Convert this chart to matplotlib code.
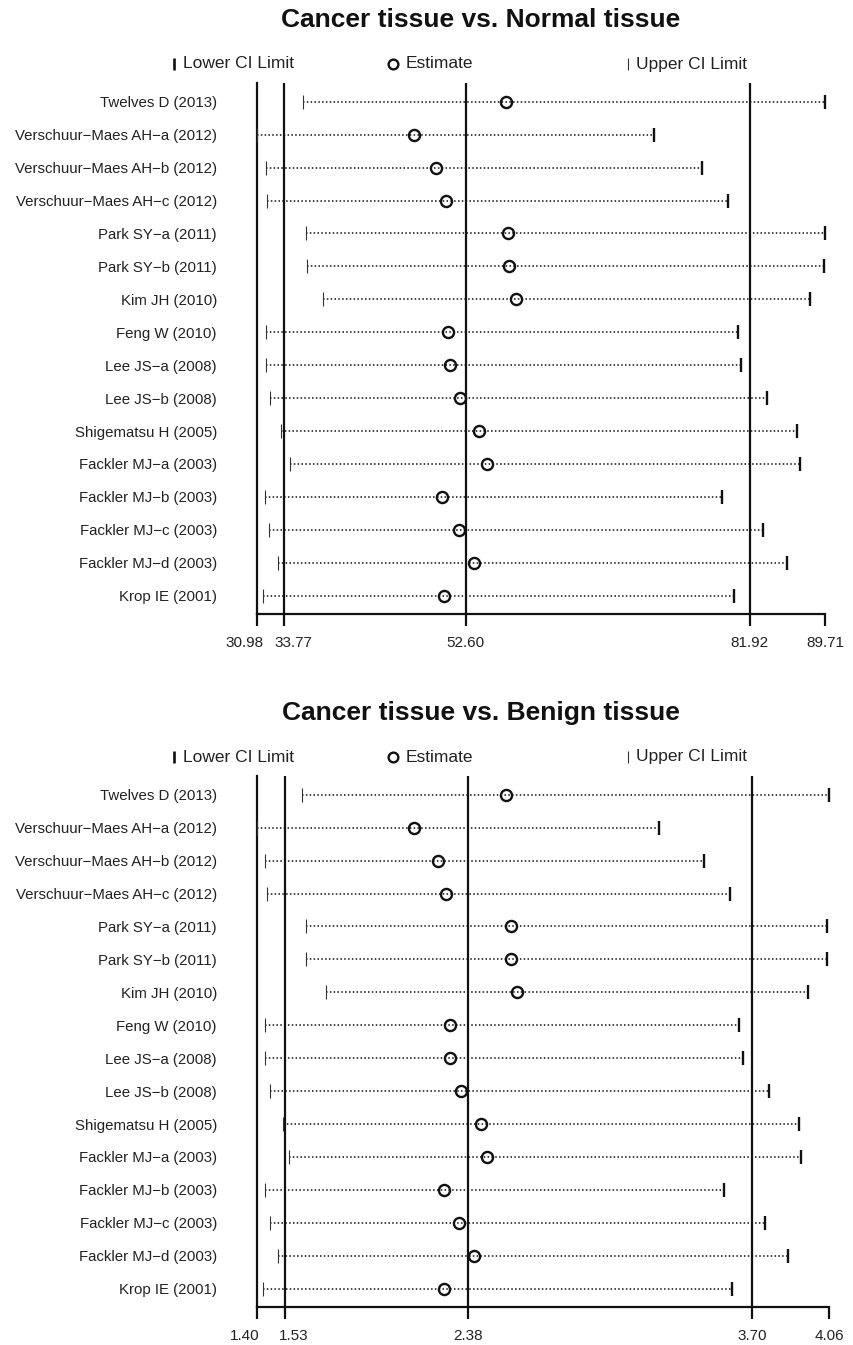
import matplotlib.pyplot as plt
import numpy as np
from matplotlib.transforms import ScaledTranslation

plt.rcParams['font.family'] = ['Liberation Sans', 'DejaVu Sans']

W, H = 854, 1345

studies = [
    'Twelves D (2013)',
    'Verschuur\u2212Maes AH\u2212a (2012)',
    'Verschuur\u2212Maes AH\u2212b (2012)',
    'Verschuur\u2212Maes AH\u2212c (2012)',
    'Park SY\u2212a (2011)',
    'Park SY\u2212b (2011)',
    'Kim JH (2010)',
    'Feng W (2010)',
    'Lee JS\u2212a (2008)',
    'Lee JS\u2212b (2008)',
    'Shigematsu H (2005)',
    'Fackler MJ\u2212a (2003)',
    'Fackler MJ\u2212b (2003)',
    'Fackler MJ\u2212c (2003)',
    'Fackler MJ\u2212d (2003)',
    'Krop IE (2001)',
]

# cancer vs normal tissue, study omitted in turn
normal_est = [56.74, 47.23, 49.51, 50.54, 56.95, 57.05, 57.78, 50.75,
              50.96, 51.99, 53.95, 54.78, 50.13, 51.88, 53.43, 50.34]
normal_lo = [35.76, 30.98, 31.89, 32.04, 36.07, 36.18, 37.83, 31.94,
             31.94, 32.35, 33.49, 34.42, 31.84, 32.25, 33.18, 31.63]
normal_hi = [89.71, 72.04, 77.00, 79.68, 89.68, 89.61, 88.16, 80.72,
             81.03, 83.71, 86.81, 87.12, 79.06, 83.29, 85.78, 80.30]
normal_overall = [33.77, 52.60, 81.92]

# cancer vs benign tissue
benign_est = [2.56, 2.13, 2.24, 2.28, 2.58, 2.58, 2.61, 2.30,
              2.30, 2.35, 2.44, 2.47, 2.27, 2.34, 2.41, 2.27]
benign_lo = [1.61, 1.40, 1.44, 1.45, 1.63, 1.63, 1.72, 1.44,
             1.44, 1.46, 1.52, 1.55, 1.44, 1.46, 1.50, 1.43]
benign_hi = [4.06, 3.27, 3.48, 3.60, 4.05, 4.05, 3.96, 3.64,
             3.66, 3.78, 3.92, 3.93, 3.57, 3.76, 3.87, 3.61]
benign_overall = [1.53, 2.38, 3.70]

INK = '#111111'


def fx(px):
    return px / W


def fy(py):
    return 1 - py / H


def draw_panel(fig, title, est, lo, hi, overall, x_right, dy):
    """One influence panel; dy shifts the whole block down in pixels."""
    top, bottom = 82.7 + dy, 614 + dy
    left = 256.7
    ax = fig.add_axes([fx(left), fy(bottom), fx(x_right) - fx(left),
                       (bottom - top) / H])
    n = len(studies)
    y = np.arange(n)

    for i in range(n):
        ax.plot([lo[i], hi[i]], [y[i], y[i]], color=INK, lw=1.1,
                dashes=(1.0, 1.5), clip_on=False, zorder=2)
    ax.plot(lo, y, ls='none', marker='|', ms=10.5, mew=0.8, color='#333333',
            clip_on=False, zorder=3)
    ax.plot(hi, y, ls='none', marker='|', ms=10.5, mew=1.7, color=INK,
            clip_on=False, zorder=3)
    ax.plot(est, y, ls='none', marker='o', ms=8, mfc='none', mec=INK,
            mew=1.7, clip_on=False, zorder=4)
    for v in overall:
        ax.axvline(v, color=INK, lw=1.6, zorder=1)

    xmin, xmax = min(lo), max(hi)
    ax.set_xlim(xmin, xmax)
    ax.set_ylim(n - 1 + 18.3 / 32.93, -19 / 32.93)

    for side in ['top', 'right']:
        ax.spines[side].set_visible(False)
    ax.spines['left'].set_linewidth(1.6)
    ax.spines['bottom'].set_linewidth(1.6)
    ax.spines['left'].set_color(INK)
    ax.spines['bottom'].set_color(INK)

    ticks = [xmin] + list(overall) + [xmax]
    ax.set_xticks(ticks)
    ax.set_xticklabels([f'{t:.2f}' for t in ticks], fontsize=11,
                       color='#222222')
    ax.tick_params(axis='x', direction='out', length=8.6, width=1.6,
                   color=INK, pad=7)
    labels = ax.get_xticklabels()
    # keep the two close left labels apart
    labels[0].set_transform(labels[0].get_transform() +
                            ScaledTranslation(-0.125, 0, fig.dpi_scale_trans))
    labels[1].set_transform(labels[1].get_transform() +
                            ScaledTranslation(0.095, 0, fig.dpi_scale_trans))

    ax.set_yticks(y)
    ax.set_yticklabels(studies, fontsize=10.8, color='#222222')
    ax.tick_params(axis='y', length=0, pad=28.6)

    # title and legend
    fig.text(fx(481), fy(20 + dy), title, ha='center', va='center',
             fontsize=19, fontweight='bold', color=INK)
    ly = fy(64 + dy)
    ax.plot([fx(174)], [ly], transform=fig.transFigure, marker='|', ms=9,
            mew=1.9, color=INK, clip_on=False)
    fig.text(fx(183), ly, 'Lower CI Limit', ha='left', va='center',
             fontsize=12.5, color='#222222')
    ax.plot([fx(393)], [ly], transform=fig.transFigure, marker='o', ms=7,
            mfc='none', mec=INK, mew=1.7, clip_on=False)
    fig.text(fx(406), ly, 'Estimate', ha='left', va='center',
             fontsize=12.5, color='#222222')
    ax.plot([fx(628)], [ly], transform=fig.transFigure, marker='|', ms=9,
            mew=0.8, color='#333333', clip_on=False)
    fig.text(fx(636), ly, 'Upper CI Limit', ha='left', va='center',
             fontsize=12.5, color='#222222')
    return ax


fig = plt.figure(figsize=(W / 100, H / 100), dpi=100)
draw_panel(fig, 'Cancer tissue vs. Normal tissue', normal_est, normal_lo,
           normal_hi, normal_overall, 825, 0)
draw_panel(fig, 'Cancer tissue vs. Benign tissue', benign_est, benign_lo,
           benign_hi, benign_overall, 829.3, 693)
fig.savefig('out.png', dpi=100)
